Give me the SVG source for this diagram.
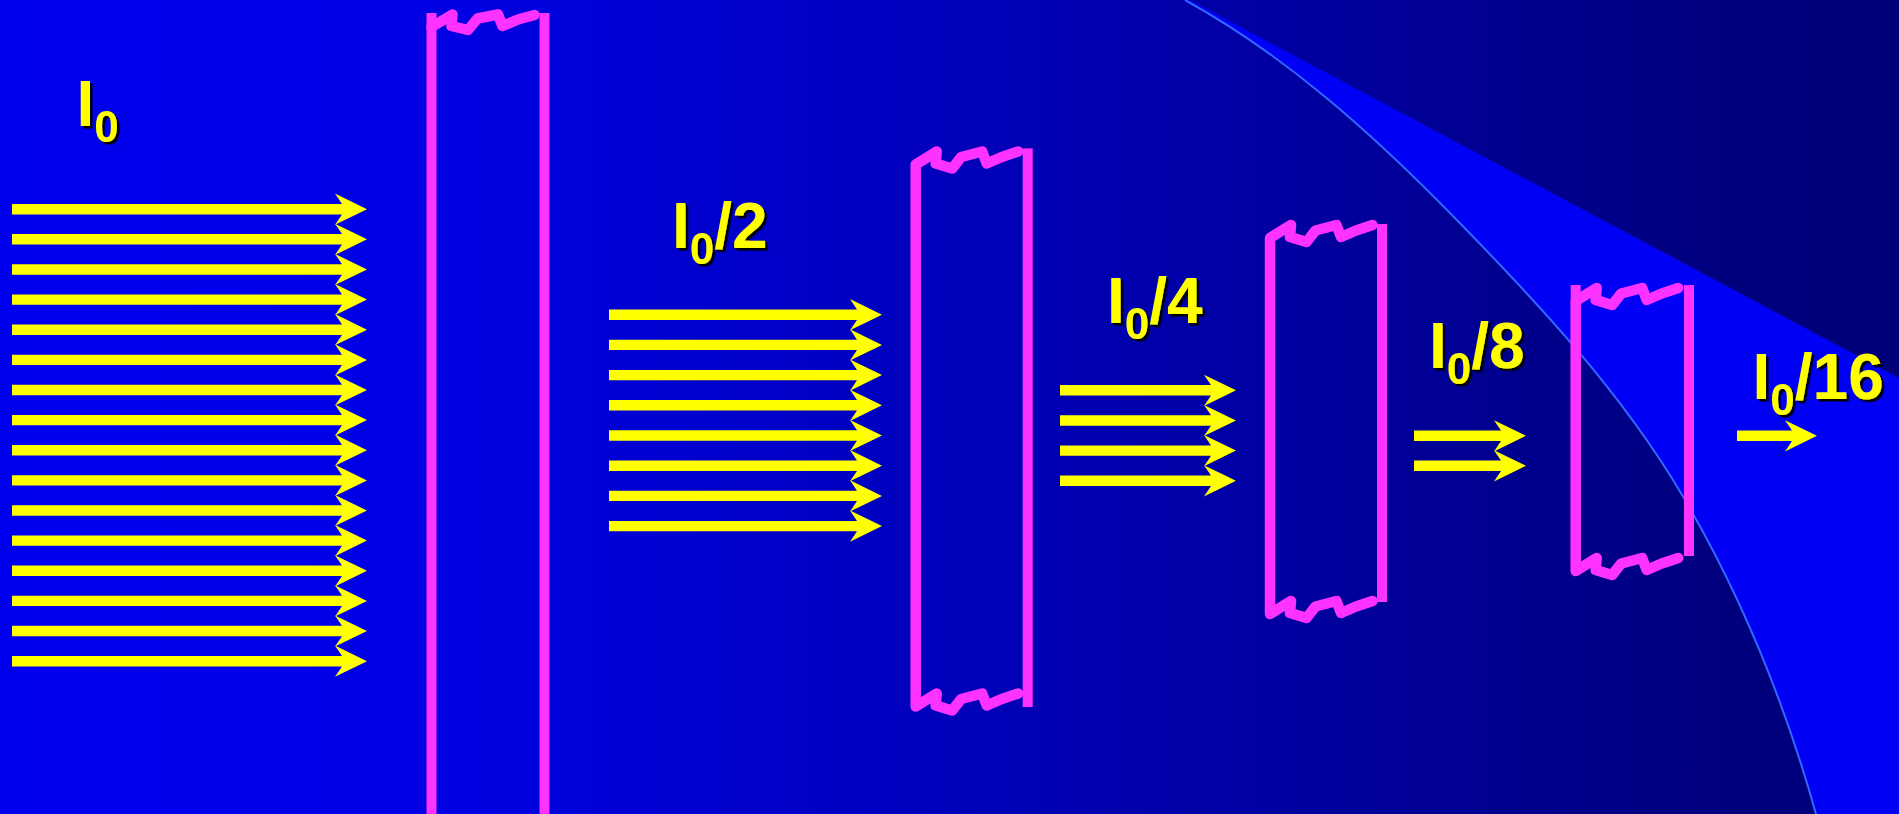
<svg xmlns="http://www.w3.org/2000/svg" width="1899" height="814" viewBox="0 0 1899 814">
<defs>
<linearGradient id="bg" gradientUnits="userSpaceOnUse" x1="0" y1="0" x2="1899" y2="0">
<stop offset="0" stop-color="#0000F0"/>
<stop offset="0.21" stop-color="#0000E6"/>
<stop offset="0.895" stop-color="#000080"/>
<stop offset="1" stop-color="#000078"/>
</linearGradient>
<filter id="sh" x="-10%" y="-10%" width="130%" height="130%">
<feDropShadow dx="2.5" dy="2.5" stdDeviation="0" flood-color="#000000" flood-opacity="1"/>
</filter>
<path id="a1" d="M-355,-5.2 H-25 L-32,-15.6 L0,0 L-32,15.6 L-25,5.2 H-355 Z"/>
<path id="a2" d="M-273,-5.2 H-25 L-32,-15.6 L0,0 L-32,15.6 L-25,5.2 H-273 Z"/>
<path id="a3" d="M-176,-5.2 H-25 L-32,-15.6 L0,0 L-32,15.6 L-25,5.2 H-176 Z"/>
<path id="a4" d="M-112,-5.2 H-25 L-32,-15.6 L0,0 L-32,15.6 L-25,5.2 H-112 Z"/>
<path id="a5" d="M-80,-5.2 H-25 L-32,-15.6 L0,0 L-32,15.6 L-25,5.2 H-80 Z"/>
</defs>
<style>
.wave{fill:none;stroke:#FF33FF;stroke-width:10.5;stroke-linejoin:round;stroke-linecap:round}
.edge{fill:#FF33FF}
.lbl{font-family:"Liberation Sans",Arial,sans-serif;font-weight:bold;font-size:64px;fill:#FFFF00;filter:url(#sh)}
.sub{font-size:44px}
#arrows use{fill:#FFFF00}
</style>

<g id="background">
<rect x="0" y="0" width="1899" height="814" fill="url(#bg)"/>
<path d="M1185,0 C1284,54.5 1371,132.3 1450,213 C1535.8,300.5 1621.2,391.4 1683.3,497 C1741.4,595.8 1784,700 1816,814 L1899,814 L1899,378 L1190,0 Z" fill="#0000F5"/>
<path d="M1185,0 C1284,54.5 1371,132.3 1450,213 C1535.8,300.5 1621.2,391.4 1683.3,497 C1741.4,595.8 1784,700 1816,814" fill="none" stroke="#3366FF" stroke-width="2"/>
</g>

<g id="slab1">
<rect class="edge" x="426.5" y="13" width="10" height="801"/>
<rect class="edge" x="539.5" y="13" width="10" height="801"/>
<polyline class="wave" points="431.5,27 452.5,14.5 451.5,26 468,30 477.5,18.5 498,14.5 502.5,26 518,19.5 534.5,15"/>
</g>

<g id="slab2">
<rect class="edge" x="1022.7" y="148.4" width="10" height="558.6"/>
<polyline class="wave" points="1018.2,151.5 1001.7,157 986.7,163.5 982.2,151.5 961.2,157 952.2,168.5 935.7,163.5 936.7,151.5 915.7,164.5 915.7,706.5 936.7,693.5 935.7,705.5 952.2,710.5 961.2,699 982.2,693.5 986.7,705.5 1001.7,699 1018.2,693.5"/>
</g>

<g id="slab3">
<rect class="edge" x="1377" y="224" width="10" height="378"/>
<polyline class="wave" points="1372.5,225 1356,230.5 1341,237 1336.5,225 1315.5,230.5 1306.5,242 1290,237 1291,225 1270,238 1270,614 1291,601 1290,613 1306.5,618 1315.5,606.5 1336.5,601 1341,613 1356,606.5 1372.5,601"/>
</g>

<g id="slab4">
<rect class="edge" x="1684" y="285" width="10" height="271"/>
<rect class="edge" x="1570.7" y="285" width="10" height="18"/>
<polyline class="wave" points="1678.2,288 1661.7,293.5 1646.7,300 1642.2,288 1621.2,293.5 1612.2,305 1595.7,300 1596.7,288 1575.7,301 1575.7,571 1596.7,558 1595.7,570 1612.2,575 1621.2,563.5 1642.2,558 1646.7,570 1661.7,563.5 1678.2,558"/>
</g>

<g id="arrows">
<use href="#a1" x="367" y="209.2"/>
<use href="#a1" x="367" y="239.3"/>
<use href="#a1" x="367" y="269.5"/>
<use href="#a1" x="367" y="299.6"/>
<use href="#a1" x="367" y="329.7"/>
<use href="#a1" x="367" y="359.9"/>
<use href="#a1" x="367" y="390.0"/>
<use href="#a1" x="367" y="420.1"/>
<use href="#a1" x="367" y="450.2"/>
<use href="#a1" x="367" y="480.4"/>
<use href="#a1" x="367" y="510.5"/>
<use href="#a1" x="367" y="540.6"/>
<use href="#a1" x="367" y="570.8"/>
<use href="#a1" x="367" y="600.9"/>
<use href="#a1" x="367" y="631.0"/>
<use href="#a1" x="367" y="661.2"/>
<use href="#a2" x="882" y="314.7"/>
<use href="#a2" x="882" y="344.9"/>
<use href="#a2" x="882" y="375.1"/>
<use href="#a2" x="882" y="405.3"/>
<use href="#a2" x="882" y="435.5"/>
<use href="#a2" x="882" y="465.7"/>
<use href="#a2" x="882" y="495.9"/>
<use href="#a2" x="882" y="526.1"/>
<use href="#a3" x="1236" y="390.3"/>
<use href="#a3" x="1236" y="420.5"/>
<use href="#a3" x="1236" y="450.6"/>
<use href="#a3" x="1236" y="480.8"/>
<use href="#a4" x="1526" y="435.8"/>
<use href="#a4" x="1526" y="465.8"/>
<use href="#a5" x="1817" y="435.8"/>
</g>

<g id="label-I0"><text class="lbl" x="76.5" y="126">I<tspan class="sub" dy="16">0</tspan></text></g>
<g id="label-I0-2"><text class="lbl" x="672" y="248">I<tspan class="sub" dy="16">0</tspan><tspan dy="-16">/2</tspan></text></g>
<g id="label-I0-4"><text class="lbl" x="1107" y="323">I<tspan class="sub" dy="16">0</tspan><tspan dy="-16">/4</tspan></text></g>
<g id="label-I0-8"><text class="lbl" x="1429" y="368">I<tspan class="sub" dy="16">0</tspan><tspan dy="-16">/8</tspan></text></g>
<g id="label-I0-16"><text class="lbl" x="1752.5" y="399">I<tspan class="sub" dy="16">0</tspan><tspan dy="-16">/16</tspan></text></g>
</svg>
